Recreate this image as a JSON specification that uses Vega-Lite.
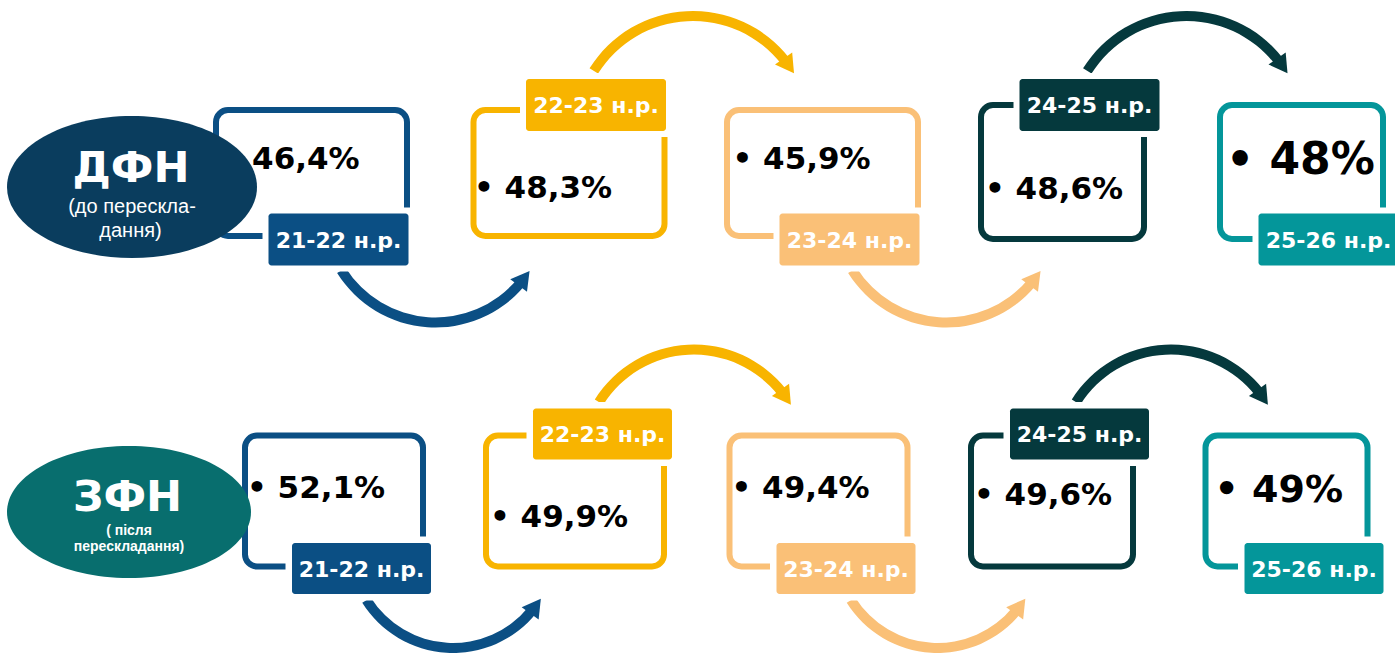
{
  "$schema": "https://vega.github.io/schema/vega-lite/v6.json",
  "width": 1395,
  "height": 655,
  "padding": 0,
  "autosize": {"type": "fit", "contains": "padding"},
  "background": "#ffffff",
  "config": {
    "view": {"stroke": null},
    "locale": {"number": {"decimal": ",", "thousands": " ", "grouping": [3], "currency": ["• ", "%"]}}
  },
  "datasets": {
    "dfn": [
      {"group": "ДФН", "period": "21-22 н.р.", "i": 1, "value": 0.464},
      {"group": "ДФН", "period": "22-23 н.р.", "i": 2, "value": 0.483},
      {"group": "ДФН", "period": "23-24 н.р.", "i": 3, "value": 0.459},
      {"group": "ДФН", "period": "24-25 н.р.", "i": 4, "value": 0.486},
      {"group": "ДФН", "period": "25-26 н.р.", "i": 5, "value": 0.48}
    ],
    "zfn": [
      {"group": "ЗФН", "period": "21-22 н.р.", "i": 1, "value": 0.521},
      {"group": "ЗФН", "period": "22-23 н.р.", "i": 2, "value": 0.499},
      {"group": "ЗФН", "period": "23-24 н.р.", "i": 3, "value": 0.494},
      {"group": "ЗФН", "period": "24-25 н.р.", "i": 4, "value": 0.496},
      {"group": "ЗФН", "period": "25-26 н.р.", "i": 5, "value": 0.49}
    ],
    "dfnArrows": [
      {"group": "ДФН", "period": "21-22 н.р.", "from": 1, "to": 2},
      {"group": "ДФН", "period": "22-23 н.р.", "from": 2, "to": 3},
      {"group": "ДФН", "period": "23-24 н.р.", "from": 3, "to": 4},
      {"group": "ДФН", "period": "24-25 н.р.", "from": 4, "to": 5}
    ],
    "zfnArrows": [
      {"group": "ЗФН", "period": "21-22 н.р.", "from": 1, "to": 2},
      {"group": "ЗФН", "period": "22-23 н.р.", "from": 2, "to": 3},
      {"group": "ЗФН", "period": "23-24 н.р.", "from": 3, "to": 4},
      {"group": "ЗФН", "period": "24-25 н.р.", "from": 4, "to": 5}
    ],
    "groups": [
      {"group": "ДФН", "i": 0, "title": "ДФН", "note1": "(до перескла-", "note2": "дання)"},
      {"group": "ЗФН", "i": 0, "title": "ЗФН", "note1": "( після", "note2": "перескладання)"}
    ]
  },
  "layer": [
    {
      "layer": [
        {"data": {"name": "dfnArrows"}, "transform": [{"filter": "datum.from % 2 == 1"}],
         "mark": {"type": "arc", "theta": 2.269, "theta2": 4.154, "radius": 116, "radius2": 106, "xOffset": 124, "yOffset": 39.5},
         "encoding": {
           "x": {"field": "from", "type": "quantitative", "stack": null, "scale": {"domain": [0, 1, 2, 3, 4, 5], "range": [132, 311.5, 569, 822.5, 1062.5, 1301.5], "nice": false, "zero": false}, "axis": null},
           "y": {"field": "group", "type": "nominal", "scale": {"type": "point", "domain": ["ДФН", "ЗФН"], "range": [172, 501], "padding": 0}, "axis": null},
           "color": {"field": "period", "type": "nominal", "scale": {"domain": ["21-22 н.р.", "22-23 н.р.", "23-24 н.р.", "24-25 н.р.", "25-26 н.р."], "range": ["#0B4F84", "#F8B400", "#FAC077", "#05393D", "#04969A"]}, "legend": null}
         }},
        {"data": {"name": "dfnArrows"}, "transform": [{"filter": "datum.from % 2 == 0"}],
         "mark": {"type": "arc", "theta": -1.012, "theta2": 0.908, "radius": 122, "radius2": 112, "xOffset": 124, "yOffset": -39},
         "encoding": {
           "x": {"field": "from", "type": "quantitative", "stack": null, "axis": null},
           "y": {"field": "group", "type": "nominal", "axis": null},
           "color": {"field": "period", "type": "nominal", "legend": null}
         }},
        {"data": {"name": "dfnArrows"}, "transform": [{"filter": "datum.from % 2 == 1"}],
         "mark": {"type": "point", "shape": "triangle-up", "size": 440, "angle": 37, "filled": true, "opacity": 1, "xOffset": 212.6, "yOffset": 106.3},
         "encoding": {
           "x": {"field": "from", "type": "quantitative", "axis": null},
           "y": {"field": "group", "type": "nominal", "axis": null},
           "color": {"field": "period", "type": "nominal", "legend": null}
         }},
        {"data": {"name": "dfnArrows"}, "transform": [{"filter": "datum.from % 2 == 0"}],
         "mark": {"type": "point", "shape": "triangle-up", "size": 440, "angle": 145, "filled": true, "opacity": 1, "xOffset": 219.8, "yOffset": -106.1},
         "encoding": {
           "x": {"field": "from", "type": "quantitative", "axis": null},
           "y": {"field": "group", "type": "nominal", "axis": null},
           "color": {"field": "period", "type": "nominal", "legend": null}
         }},
        {"data": {"name": "dfn"}, "transform": [{"filter": "datum.i <= 3"}],
         "mark": {"type": "rect", "width": 191, "height": 126, "cornerRadius": 12, "filled": false, "strokeWidth": 6, "yOffset": 1},
         "encoding": {
           "x": {"field": "i", "type": "quantitative", "axis": null},
           "y": {"field": "group", "type": "nominal", "axis": null},
           "color": {"field": "period", "type": "nominal", "legend": null}
         }},
        {"data": {"name": "dfn"}, "transform": [{"filter": "datum.i >= 4"}],
         "mark": {"type": "rect", "width": 163, "height": 134, "cornerRadius": 12, "filled": false, "strokeWidth": 6},
         "encoding": {
           "x": {"field": "i", "type": "quantitative", "axis": null},
           "y": {"field": "group", "type": "nominal", "axis": null},
           "color": {"field": "period", "type": "nominal", "legend": null}
         }},
        {"data": {"name": "dfn"}, "transform": [{"filter": "datum.i % 2 == 1"}],
         "mark": {"type": "rect", "width": 152, "height": 64, "cornerRadius": 4, "color": "#ffffff", "xOffset": 27, "yOffset": 67.5},
         "encoding": {
           "x": {"field": "i", "type": "quantitative", "axis": null},
           "y": {"field": "group", "type": "nominal", "axis": null}
         }},
        {"data": {"name": "dfn"}, "transform": [{"filter": "datum.i % 2 == 0"}],
         "mark": {"type": "rect", "width": 152, "height": 64, "cornerRadius": 4, "color": "#ffffff", "xOffset": 27, "yOffset": -67},
         "encoding": {
           "x": {"field": "i", "type": "quantitative", "axis": null},
           "y": {"field": "group", "type": "nominal", "axis": null}
         }},
        {"data": {"name": "dfn"}, "transform": [{"filter": "datum.i % 2 == 1"}],
         "mark": {"type": "rect", "width": 140, "height": 52, "cornerRadius": 3, "xOffset": 27, "yOffset": 67.5},
         "encoding": {
           "x": {"field": "i", "type": "quantitative", "axis": null},
           "y": {"field": "group", "type": "nominal", "axis": null},
           "color": {"field": "period", "type": "nominal", "legend": null}
         }},
        {"data": {"name": "dfn"}, "transform": [{"filter": "datum.i % 2 == 0"}],
         "mark": {"type": "rect", "width": 140, "height": 52, "cornerRadius": 3, "xOffset": 27, "yOffset": -67},
         "encoding": {
           "x": {"field": "i", "type": "quantitative", "axis": null},
           "y": {"field": "group", "type": "nominal", "axis": null},
           "color": {"field": "period", "type": "nominal", "legend": null}
         }},
        {"data": {"name": "dfn"}, "transform": [{"filter": "datum.i % 2 == 1"}],
         "mark": {"type": "text", "font": "DejaVu Sans", "fontWeight": "bold", "fontSize": 22, "fill": "#ffffff", "align": "center", "baseline": "alphabetic", "dx": 27, "dy": 76},
         "encoding": {
           "x": {"field": "i", "type": "quantitative", "axis": null},
           "y": {"field": "group", "type": "nominal", "axis": null},
           "text": {"field": "period", "type": "nominal"}
         }},
        {"data": {"name": "dfn"}, "transform": [{"filter": "datum.i % 2 == 0"}],
         "mark": {"type": "text", "font": "DejaVu Sans", "fontWeight": "bold", "fontSize": 22, "fill": "#ffffff", "align": "center", "baseline": "alphabetic", "dx": 27, "dy": -59},
         "encoding": {
           "x": {"field": "i", "type": "quantitative", "axis": null},
           "y": {"field": "group", "type": "nominal", "axis": null},
           "text": {"field": "period", "type": "nominal"}
         }},
        {"data": {"name": "dfn"}, "transform": [{"filter": "datum.i == 1 || datum.i == 3"}],
         "mark": {"type": "text", "font": "DejaVu Sans", "fontWeight": "bold", "fontSize": 31, "fill": "#000000", "align": "left", "baseline": "alphabetic", "dx": -90, "dy": -3.5},
         "encoding": {
           "x": {"field": "i", "type": "quantitative", "axis": null},
           "y": {"field": "group", "type": "nominal", "axis": null},
           "text": {"field": "value", "type": "quantitative", "format": "$.1~%"}
         }},
        {"data": {"name": "dfn"}, "transform": [{"filter": "datum.i == 2"}],
         "mark": {"type": "text", "font": "DejaVu Sans", "fontWeight": "bold", "fontSize": 31, "fill": "#000000", "align": "left", "baseline": "alphabetic", "dx": -95, "dy": 26},
         "encoding": {
           "x": {"field": "i", "type": "quantitative", "axis": null},
           "y": {"field": "group", "type": "nominal", "axis": null},
           "text": {"field": "value", "type": "quantitative", "format": "$.1~%"}
         }},
        {"data": {"name": "dfn"}, "transform": [{"filter": "datum.i == 4"}],
         "mark": {"type": "text", "font": "DejaVu Sans", "fontWeight": "bold", "fontSize": 31, "fill": "#000000", "align": "left", "baseline": "alphabetic", "dx": -77.5, "dy": 27},
         "encoding": {
           "x": {"field": "i", "type": "quantitative", "axis": null},
           "y": {"field": "group", "type": "nominal", "axis": null},
           "text": {"field": "value", "type": "quantitative", "format": "$.1~%"}
         }},
        {"data": {"name": "dfn"}, "transform": [{"filter": "datum.i == 5"}],
         "mark": {"type": "text", "font": "DejaVu Sans", "fontWeight": "bold", "fontSize": 44, "fill": "#000000", "align": "left", "baseline": "alphabetic", "dx": -75.5, "dy": 2},
         "encoding": {
           "x": {"field": "i", "type": "quantitative", "axis": null},
           "y": {"field": "group", "type": "nominal", "axis": null},
           "text": {"field": "value", "type": "quantitative", "format": "$.1~%"}
         }},
        {"data": {"name": "groups"}, "transform": [{"filter": "datum.group == 'ДФН'"}],
         "mark": {"type": "point", "shape": "M 1 0 C 1 0.3137 0.5523 0.568 0 0.568 C -0.5523 0.568 -1 0.3137 -1 0 C -1 -0.3137 -0.5523 -0.568 0 -0.568 C 0.5523 -0.568 1 -0.3137 1 0 Z", "size": 62500, "filled": true, "opacity": 1, "strokeWidth": 0, "color": "#0A3D5E", "yOffset": 15},
         "encoding": {
           "x": {"field": "i", "type": "quantitative", "axis": null},
           "y": {"field": "group", "type": "nominal", "axis": null}
         }},
        {"data": {"name": "groups"}, "transform": [{"filter": "datum.group == 'ДФН'"}],
         "mark": {"type": "text", "font": "DejaVu Sans", "fontWeight": "bold", "fontSize": 43, "fill": "#ffffff", "align": "center", "baseline": "alphabetic", "dx": -1, "dy": 10},
         "encoding": {
           "x": {"field": "i", "type": "quantitative", "axis": null},
           "y": {"field": "group", "type": "nominal", "axis": null},
           "text": {"field": "title", "type": "nominal"}
         }},
        {"data": {"name": "groups"}, "transform": [{"filter": "datum.group == 'ДФН'"}],
         "mark": {"type": "text", "font": "Liberation Sans", "fontSize": 20, "fill": "#ffffff", "align": "center", "baseline": "alphabetic", "dx": 0, "dy": 41},
         "encoding": {
           "x": {"field": "i", "type": "quantitative", "axis": null},
           "y": {"field": "group", "type": "nominal", "axis": null},
           "text": {"field": "note1", "type": "nominal"}
         }},
        {"data": {"name": "groups"}, "transform": [{"filter": "datum.group == 'ДФН'"}],
         "mark": {"type": "text", "font": "Liberation Sans", "fontSize": 20, "fill": "#ffffff", "align": "center", "baseline": "alphabetic", "dx": -1.5, "dy": 65},
         "encoding": {
           "x": {"field": "i", "type": "quantitative", "axis": null},
           "y": {"field": "group", "type": "nominal", "axis": null},
           "text": {"field": "note2", "type": "nominal"}
         }}
      ]
    },
    {
      "layer": [
        {"data": {"name": "zfnArrows"}, "transform": [{"filter": "datum.from % 2 == 1"}],
         "mark": {"type": "arc", "theta": 2.251, "theta2": 4.154, "radius": 107, "radius2": 97, "xOffset": 119, "yOffset": 45},
         "encoding": {
           "x": {"field": "from", "type": "quantitative", "stack": null, "scale": {"domain": [0, 1, 2, 3, 4, 5], "range": [129, 334, 575, 818.5, 1052, 1286.5], "nice": false, "zero": false}, "axis": null},
           "y": {"field": "group", "type": "nominal", "axis": null},
           "color": {"field": "period", "type": "nominal", "legend": null}
         }},
        {"data": {"name": "zfnArrows"}, "transform": [{"filter": "datum.from % 2 == 0"}],
         "mark": {"type": "arc", "theta": -1.012, "theta2": 0.908, "radius": 117, "radius2": 107, "xOffset": 119, "yOffset": -39.5},
         "encoding": {
           "x": {"field": "from", "type": "quantitative", "stack": null, "axis": null},
           "y": {"field": "group", "type": "nominal", "axis": null},
           "color": {"field": "period", "type": "nominal", "legend": null}
         }},
        {"data": {"name": "zfnArrows"}, "transform": [{"filter": "datum.from % 2 == 1"}],
         "mark": {"type": "point", "shape": "triangle-up", "size": 440, "angle": 36, "filled": true, "opacity": 1, "xOffset": 201.5, "yOffset": 105},
         "encoding": {
           "x": {"field": "from", "type": "quantitative", "axis": null},
           "y": {"field": "group", "type": "nominal", "axis": null},
           "color": {"field": "period", "type": "nominal", "legend": null}
         }},
        {"data": {"name": "zfnArrows"}, "transform": [{"filter": "datum.from % 2 == 0"}],
         "mark": {"type": "point", "shape": "triangle-up", "size": 440, "angle": 145, "filled": true, "opacity": 1, "xOffset": 210.7, "yOffset": -103.7},
         "encoding": {
           "x": {"field": "from", "type": "quantitative", "axis": null},
           "y": {"field": "group", "type": "nominal", "axis": null},
           "color": {"field": "period", "type": "nominal", "legend": null}
         }},
        {"data": {"name": "zfn"}, "transform": [{"filter": "datum.i <= 3"}],
         "mark": {"type": "rect", "width": 178, "height": 131, "cornerRadius": 12, "filled": false, "strokeWidth": 6},
         "encoding": {
           "x": {"field": "i", "type": "quantitative", "axis": null},
           "y": {"field": "group", "type": "nominal", "axis": null},
           "color": {"field": "period", "type": "nominal", "legend": null}
         }},
        {"data": {"name": "zfn"}, "transform": [{"filter": "datum.i >= 4"}],
         "mark": {"type": "rect", "width": 162, "height": 131, "cornerRadius": 12, "filled": false, "strokeWidth": 6},
         "encoding": {
           "x": {"field": "i", "type": "quantitative", "axis": null},
           "y": {"field": "group", "type": "nominal", "axis": null},
           "color": {"field": "period", "type": "nominal", "legend": null}
         }},
        {"data": {"name": "zfn"}, "transform": [{"filter": "datum.i % 2 == 1"}],
         "mark": {"type": "rect", "width": 152, "height": 64, "cornerRadius": 4, "color": "#ffffff", "xOffset": 27.5, "yOffset": 67.5},
         "encoding": {
           "x": {"field": "i", "type": "quantitative", "axis": null},
           "y": {"field": "group", "type": "nominal", "axis": null}
         }},
        {"data": {"name": "zfn"}, "transform": [{"filter": "datum.i % 2 == 0"}],
         "mark": {"type": "rect", "width": 152, "height": 64, "cornerRadius": 4, "color": "#ffffff", "xOffset": 27.5, "yOffset": -67},
         "encoding": {
           "x": {"field": "i", "type": "quantitative", "axis": null},
           "y": {"field": "group", "type": "nominal", "axis": null}
         }},
        {"data": {"name": "zfn"}, "transform": [{"filter": "datum.i % 2 == 1"}],
         "mark": {"type": "rect", "width": 139, "height": 51, "cornerRadius": 3, "xOffset": 27.5, "yOffset": 67.5},
         "encoding": {
           "x": {"field": "i", "type": "quantitative", "axis": null},
           "y": {"field": "group", "type": "nominal", "axis": null},
           "color": {"field": "period", "type": "nominal", "legend": null}
         }},
        {"data": {"name": "zfn"}, "transform": [{"filter": "datum.i % 2 == 0"}],
         "mark": {"type": "rect", "width": 139, "height": 51, "cornerRadius": 3, "xOffset": 27.5, "yOffset": -67},
         "encoding": {
           "x": {"field": "i", "type": "quantitative", "axis": null},
           "y": {"field": "group", "type": "nominal", "axis": null},
           "color": {"field": "period", "type": "nominal", "legend": null}
         }},
        {"data": {"name": "zfn"}, "transform": [{"filter": "datum.i % 2 == 1"}],
         "mark": {"type": "text", "font": "DejaVu Sans", "fontWeight": "bold", "fontSize": 22, "fill": "#ffffff", "align": "center", "baseline": "alphabetic", "dx": 27.5, "dy": 76},
         "encoding": {
           "x": {"field": "i", "type": "quantitative", "axis": null},
           "y": {"field": "group", "type": "nominal", "axis": null},
           "text": {"field": "period", "type": "nominal"}
         }},
        {"data": {"name": "zfn"}, "transform": [{"filter": "datum.i % 2 == 0"}],
         "mark": {"type": "text", "font": "DejaVu Sans", "fontWeight": "bold", "fontSize": 22, "fill": "#ffffff", "align": "center", "baseline": "alphabetic", "dx": 27.5, "dy": -59},
         "encoding": {
           "x": {"field": "i", "type": "quantitative", "axis": null},
           "y": {"field": "group", "type": "nominal", "axis": null},
           "text": {"field": "period", "type": "nominal"}
         }},
        {"data": {"name": "zfn"}, "transform": [{"filter": "datum.i == 1 || datum.i == 3"}],
         "mark": {"type": "text", "font": "DejaVu Sans", "fontWeight": "bold", "fontSize": 31, "fill": "#000000", "align": "left", "baseline": "alphabetic", "dx": -87, "dy": -3},
         "encoding": {
           "x": {"field": "i", "type": "quantitative", "axis": null},
           "y": {"field": "group", "type": "nominal", "axis": null},
           "text": {"field": "value", "type": "quantitative", "format": "$.1~%"}
         }},
        {"data": {"name": "zfn"}, "transform": [{"filter": "datum.i == 2"}],
         "mark": {"type": "text", "font": "DejaVu Sans", "fontWeight": "bold", "fontSize": 31, "fill": "#000000", "align": "left", "baseline": "alphabetic", "dx": -85, "dy": 26},
         "encoding": {
           "x": {"field": "i", "type": "quantitative", "axis": null},
           "y": {"field": "group", "type": "nominal", "axis": null},
           "text": {"field": "value", "type": "quantitative", "format": "$.1~%"}
         }},
        {"data": {"name": "zfn"}, "transform": [{"filter": "datum.i == 4"}],
         "mark": {"type": "text", "font": "DejaVu Sans", "fontWeight": "bold", "fontSize": 31, "fill": "#000000", "align": "left", "baseline": "alphabetic", "dx": -78, "dy": 4},
         "encoding": {
           "x": {"field": "i", "type": "quantitative", "axis": null},
           "y": {"field": "group", "type": "nominal", "axis": null},
           "text": {"field": "value", "type": "quantitative", "format": "$.1~%"}
         }},
        {"data": {"name": "zfn"}, "transform": [{"filter": "datum.i == 5"}],
         "mark": {"type": "text", "font": "DejaVu Sans", "fontWeight": "bold", "fontSize": 38, "fill": "#000000", "align": "left", "baseline": "alphabetic", "dx": -72, "dy": 1},
         "encoding": {
           "x": {"field": "i", "type": "quantitative", "axis": null},
           "y": {"field": "group", "type": "nominal", "axis": null},
           "text": {"field": "value", "type": "quantitative", "format": "$.1~%"}
         }},
        {"data": {"name": "groups"}, "transform": [{"filter": "datum.group == 'ЗФН'"}],
         "mark": {"type": "point", "shape": "M 1 0 C 1 0.2988 0.5523 0.541 0 0.541 C -0.5523 0.541 -1 0.2988 -1 0 C -1 -0.2988 -0.5523 -0.541 0 -0.541 C 0.5523 -0.541 1 -0.2988 1 0 Z", "size": 59536, "filled": true, "opacity": 1, "strokeWidth": 0, "color": "#086E6E", "yOffset": 11},
         "encoding": {
           "x": {"field": "i", "type": "quantitative", "axis": null},
           "y": {"field": "group", "type": "nominal", "axis": null}
         }},
        {"data": {"name": "groups"}, "transform": [{"filter": "datum.group == 'ЗФН'"}],
         "mark": {"type": "text", "font": "DejaVu Sans", "fontWeight": "bold", "fontSize": 43, "fill": "#ffffff", "align": "center", "baseline": "alphabetic", "dx": -1.5, "dy": 10},
         "encoding": {
           "x": {"field": "i", "type": "quantitative", "axis": null},
           "y": {"field": "group", "type": "nominal", "axis": null},
           "text": {"field": "title", "type": "nominal"}
         }},
        {"data": {"name": "groups"}, "transform": [{"filter": "datum.group == 'ЗФН'"}],
         "mark": {"type": "text", "font": "Liberation Sans", "fontWeight": "bold", "fontSize": 14, "fill": "#ffffff", "align": "center", "baseline": "alphabetic", "dx": 0, "dy": 34},
         "encoding": {
           "x": {"field": "i", "type": "quantitative", "axis": null},
           "y": {"field": "group", "type": "nominal", "axis": null},
           "text": {"field": "note1", "type": "nominal"}
         }},
        {"data": {"name": "groups"}, "transform": [{"filter": "datum.group == 'ЗФН'"}],
         "mark": {"type": "text", "font": "Liberation Sans", "fontWeight": "bold", "fontSize": 14, "fill": "#ffffff", "align": "center", "baseline": "alphabetic", "dx": 0, "dy": 50},
         "encoding": {
           "x": {"field": "i", "type": "quantitative", "axis": null},
           "y": {"field": "group", "type": "nominal", "axis": null},
           "text": {"field": "note2", "type": "nominal"}
         }}
      ]
    }
  ],
  "resolve": {"scale": {"x": "independent"}}
}
